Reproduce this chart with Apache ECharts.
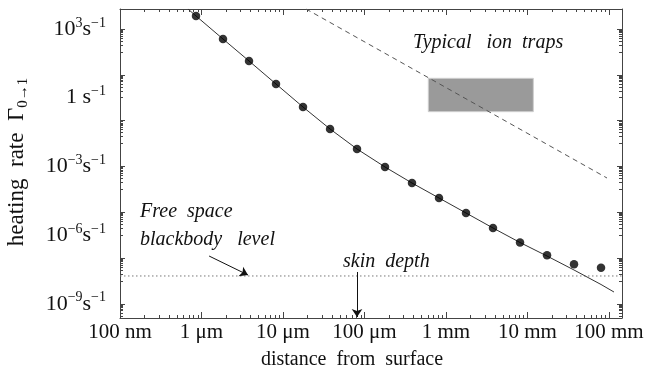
<!DOCTYPE html>
<html>
<head>
<meta charset="utf-8">
<title>heating rate vs distance</title>
<script src="https://cdn.jsdelivr.net/npm/echarts@6/dist/echarts.min.js"></script>
<style>
html, body { margin: 0; padding: 0; background: #fff; }
#chart { width: 655px; height: 372px; }
</style>
</head>
<body>
<div id="chart"></div>
<script>
// distances in micrometres, heating rates in 1/s
var dotDist = [0.856, 1.836, 3.83, 8.21, 17.6, 37.8, 81.0, 178.6, 383, 821, 1762, 3777, 8103, 17380, 37260, 79900];
var dotRate = [3700, 366, 40.1, 3.96, 0.393, 0.043, 5.75e-3, 9.42e-4, 1.88e-4, 4.17e-5, 9.23e-6, 2.04e-6, 4.75e-7, 1.31e-7, 5.31e-8, 3.77e-8];

var curveDist = [0.683, 0.856, 1.836, 3.83, 8.21, 17.6, 37.8, 81.0, 178.6, 383, 821, 1762, 3777, 8103, 17380, 37260, 79900, 115300];
var curveRate = [7470, 3700, 366, 40.1, 3.96, 0.393, 0.043, 5.75e-3, 9.42e-4, 1.88e-4, 4.17e-5, 9.23e-6, 2.04e-6, 4.75e-7, 1.22e-7, 2.99e-8, 6.97e-9, 3.27e-9];

var trapLineDist = [19.2, 94600];
var trapLineRate = [7470, 3.11e-4];
var trapBoxDist = [607, 11800];
var trapBoxRate = [0.245, 7.03];

var blackbodyRate = 1.64e-8;
var blackbodyArrowDist = [1.24, 3.72];
var blackbodyArrowRate = [1.22e-7, 1.81e-8];
var skinDepthDist = 81;
var skinArrowRate = [2.45e-8, 2.65e-10];

// axes work on log10 of metres and log10 of 1/s
var xExtent = [-7, -0.84];
var yExtent = [-9.62, 3.873];
var xTickExp = [-7, -6, -5, -4, -3, -2, -1];
var xTickLabels = ['100 nm', '1 μm', '10 μm', '100 μm', '1 mm', '10 mm', '100 mm'];
var yTickExp = [3, 0, -3, -6, -9];

var SERIF = '"Liberation Serif", "Times New Roman", serif';

function lx(um) { return Math.log10(um) - 6; }
function ly(r) { return Math.log10(r); }
function pairs(ds, rs) {
    var out = [];
    for (var i = 0; i < ds.length; i++) out.push([lx(ds[i]), ly(rs[i])]);
    return out;
}

var xMajor = [], xMinor = [];
for (var d = -7; d <= -1; d++) {
    xMajor.push(d);
    for (var m = 2; m <= 9; m++) {
        var v = d + Math.log10(m);
        if (v < xExtent[1]) xMinor.push(v);
    }
}
var yMajor = [], yMinor = [];
for (var e = 3; e >= -9; e -= 2) {
    yMajor.push(e);
    for (var k = 1; k <= 9; k++) {
        var w = e - 1 + Math.log10(k);
        if (w > yExtent[0]) yMinor.push(w);
    }
}

function yLabel(v) {
    var ex = Math.round(v);
    if (ex === 0) return '{n|1 s}{p|−1}';
    return '{n|10}{p|' + String(ex).replace('-', '−') + '}{n|s}{p|−1}';
}
function xLabel(v) {
    var i = xTickExp.indexOf(Math.round(v));
    return i < 0 ? '' : xTickLabels[i];
}

var lineCol = '#444';
function tickAxis(pos, ticks, len, isX) {
    return {
        type: 'value', position: pos,
        min: isX ? xExtent[0] : yExtent[0],
        max: isX ? xExtent[1] : yExtent[1],
        axisLine: { show: false, onZero: false },
        axisTick: { show: true, inside: true, length: len, customValues: ticks, lineStyle: { color: lineCol, width: 1 } },
        axisLabel: { show: false },
        splitLine: { show: false }
    };
}

var richStyle = {
    n: { fontFamily: SERIF, fontSize: 22, color: '#111', lineHeight: 26 },
    p: { fontFamily: SERIF, fontSize: 14, color: '#111', lineHeight: 13, verticalAlign: 'top' }
};

var mainX = tickAxis('bottom', xMajor, 6, true);
mainX.axisLine = { show: true, onZero: false, lineStyle: { color: lineCol, width: 1 } };
mainX.axisLabel = {
    show: true, customValues: xTickExp, formatter: xLabel, margin: 4,
    fontFamily: SERIF, fontSize: 21, color: '#111', showMinLabel: true, showMaxLabel: true
};
var topX = tickAxis('top', xMajor, 6, true);
topX.axisLine = { show: true, onZero: false, lineStyle: { color: lineCol, width: 1 } };

var mainY = tickAxis('left', yMajor, 5, false);
mainY.axisLine = { show: true, onZero: false, lineStyle: { color: lineCol, width: 1 } };
mainY.axisLabel = {
    show: true, customValues: yTickExp, formatter: yLabel, margin: 14, rich: richStyle,
    showMinLabel: true, showMaxLabel: true
};
var rightY = tickAxis('right', yMajor, 5, false);
rightY.axisLine = { show: true, onZero: false, lineStyle: { color: lineCol, width: 1 } };

var chart = echarts.init(document.getElementById('chart'));
var option = {
    animation: false,
    backgroundColor: '#fff',
    grid: { left: 120, right: 33, top: 9, bottom: 54, containLabel: false, outerBoundsMode: 'none' },
    xAxis: [mainX, topX, tickAxis('bottom', xMinor, 3, true), tickAxis('top', xMinor, 3, true)],
    yAxis: [mainY, rightY, tickAxis('left', yMinor, 3, false), tickAxis('right', yMinor, 3, false)],
    series: [
        {
            name: 'blackbody', type: 'line', showSymbol: false, silent: true, z: 2,
            data: [[xExtent[0], ly(blackbodyRate)], [xExtent[1], ly(blackbodyRate)]],
            lineStyle: { color: '#777', width: 1, type: [1.5, 2.5] },
            markLine: {
                silent: true, symbol: ['none', 'arrow'], symbolSize: 8,
                label: { show: false },
                lineStyle: { color: '#111', width: 1, type: 'solid' },
                data: [
                    [{ coord: [lx(blackbodyArrowDist[0]), ly(blackbodyArrowRate[0])] },
                     { coord: [lx(blackbodyArrowDist[1]), ly(blackbodyArrowRate[1])] }],
                    [{ coord: [lx(skinDepthDist), ly(skinArrowRate[0])] },
                     { coord: [lx(skinDepthDist), ly(skinArrowRate[1])] }]
                ]
            }
        },
        {
            name: 'ion traps', type: 'line', showSymbol: false, silent: true, z: 3,
            data: pairs(trapLineDist, trapLineRate),
            lineStyle: { color: '#555', width: 1, type: [5, 4] },
            markArea: {
                silent: true,
                itemStyle: { color: '#9a9a9a', borderColor: '#cfcfcf', borderWidth: 1 },
                data: [[{ coord: [lx(trapBoxDist[0]), ly(trapBoxRate[1])] },
                        { coord: [lx(trapBoxDist[1]), ly(trapBoxRate[0])] }]]
            }
        },
        {
            name: 'theory', type: 'line', showSymbol: false, silent: true, z: 4,
            data: pairs(curveDist, curveRate),
            lineStyle: { color: '#333', width: 1 }
        },
        {
            name: 'numerics', type: 'scatter', silent: true, z: 5,
            symbol: 'circle', symbolSize: 8.5,
            itemStyle: { color: '#000' },
            data: pairs(dotDist, dotRate)
        }
    ],
    graphic: [
        {
            type: 'text', x: 17, y: 162, rotation: Math.PI / 2,
            style: {
                text: '{n|heating  rate  Γ}{s|0→1}', align: 'center', verticalAlign: 'middle',
                rich: {
                    n: { fontFamily: SERIF, fontSize: 23, fill: '#111', lineHeight: 28 },
                    s: { fontFamily: SERIF, fontSize: 15, fill: '#111', lineHeight: 14, verticalAlign: 'bottom' }
                }
            }
        },
        {
            type: 'text', x: 352, y: 360,
            style: { text: 'distance  from  surface', font: '20px ' + SERIF, fill: '#111', align: 'center', verticalAlign: 'middle' }
        },
        {
            type: 'text', x: 413, y: 43,
            style: { text: 'Typical   ion  traps', font: 'italic 20px ' + SERIF, fill: '#111', align: 'left', verticalAlign: 'middle' }
        },
        {
            type: 'text', x: 140, y: 212,
            style: { text: 'Free  space', font: 'italic 20px ' + SERIF, fill: '#111', align: 'left', verticalAlign: 'middle' }
        },
        {
            type: 'text', x: 140, y: 240,
            style: { text: 'blackbody   level', font: 'italic 20px ' + SERIF, fill: '#111', align: 'left', verticalAlign: 'middle' }
        },
        {
            type: 'text', x: 343, y: 262,
            style: { text: 'skin  depth', font: 'italic 20px ' + SERIF, fill: '#111', align: 'left', verticalAlign: 'middle' }
        }
    ]
};
chart.setOption(option);
</script>
</body>
</html>
